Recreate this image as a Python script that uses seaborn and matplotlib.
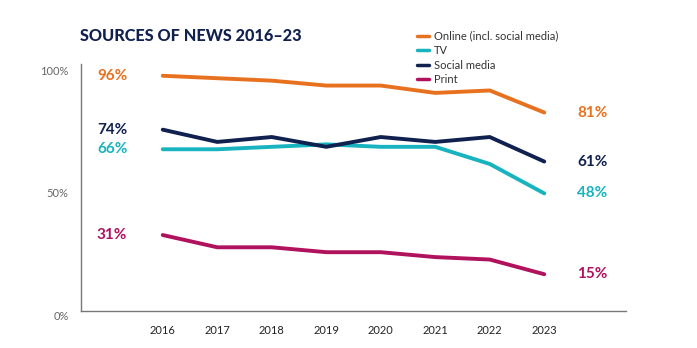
import matplotlib
matplotlib.use("Agg")
import matplotlib.pyplot as plt
import seaborn as sns
import pandas as pd

years = [2016, 2017, 2018, 2019, 2020, 2021, 2022, 2023]
online = [96, 95, 94, 92, 92, 89, 90, 81]
tv = [66, 66, 67, 68, 67, 67, 60, 48]
social = [74, 69, 71, 67, 71, 69, 71, 61]
printed = [31, 26, 26, 24, 24, 22, 21, 15]

series_names = ["Online (incl. social media)", "TV", "Social media", "Print"]
series_values = [online, tv, social, printed]
colors = ["#E8711F", "#17B3BF", "#10204F", "#B0125E"]

y_ticks = [0, 50, 100]
y_tick_labels = ["0%", "50%", "100%"]

rows = []
for name, vals in zip(series_names, series_values):
    for yr, v in zip(years, vals):
        rows.append({"year": yr, "share": v, "source": name})
df = pd.DataFrame(rows)

sns.set_theme(style="white")
plt.rcParams["font.family"] = ["Lato", "DejaVu Sans"]

fig = plt.figure(figsize=(6.97, 3.48), dpi=100)
ax = fig.add_axes([81 / 697, 1 - 311 / 348, (626 - 81) / 697, (311 - 64) / 348])

sns.lineplot(data=df, x="year", y="share", hue="source", hue_order=series_names,
             palette=colors, linewidth=2.8, ax=ax, legend=True)

ax.set_xlim(2014.5, 2024.5)
ax.set_ylim(0, 100.8)
ax.set_xticks(years)
ax.set_xticklabels([str(y) for y in years], fontsize=8, color="#222222")
ax.set_yticks(y_ticks)
ax.set_yticklabels(y_tick_labels, fontsize=8, color="#666666")
ax.tick_params(axis="x", direction="in", length=7, width=0.8, color="#666666", pad=10)
ax.tick_params(axis="y", length=0, pad=9)
for lab in ax.get_yticklabels():
    lab.set_va("top")
ax.set_xlabel("")
ax.set_ylabel("")
for side in ["top", "right"]:
    ax.spines[side].set_visible(False)
for side in ["left", "bottom"]:
    ax.spines[side].set_color("#777777")
    ax.spines[side].set_linewidth(1.0)
ax.grid(False)

# value labels at both ends of each series
for vals, c in zip(series_values, colors):
    ax.text(2015.35, vals[0], f"{vals[0]}%", color=c, fontsize=11, fontweight="bold",
            ha="right", va="center")
    ax.text(2023.6, vals[-1], f"{vals[-1]}%", color=c, fontsize=11, fontweight="bold",
            ha="left", va="center")

leg = ax.legend(loc="upper left", bbox_to_anchor=(413 / 697, 1 - 26 / 348),
                bbox_transform=fig.transFigure, frameon=False, fontsize=8.0,
                handlelength=1.0, handletextpad=0.5, labelspacing=0.32,
                borderaxespad=0)
for line in leg.get_lines():
    line.set_linewidth(2.5)
for t in leg.get_texts():
    t.set_color("#333333")

fig.text(80 / 697, 1 - 36 / 348, "SOURCES OF NEWS 2016–23", fontsize=11.7,
         fontweight="black", color="#10204F", ha="left", va="center")

fig.savefig("out.png", dpi=100)
